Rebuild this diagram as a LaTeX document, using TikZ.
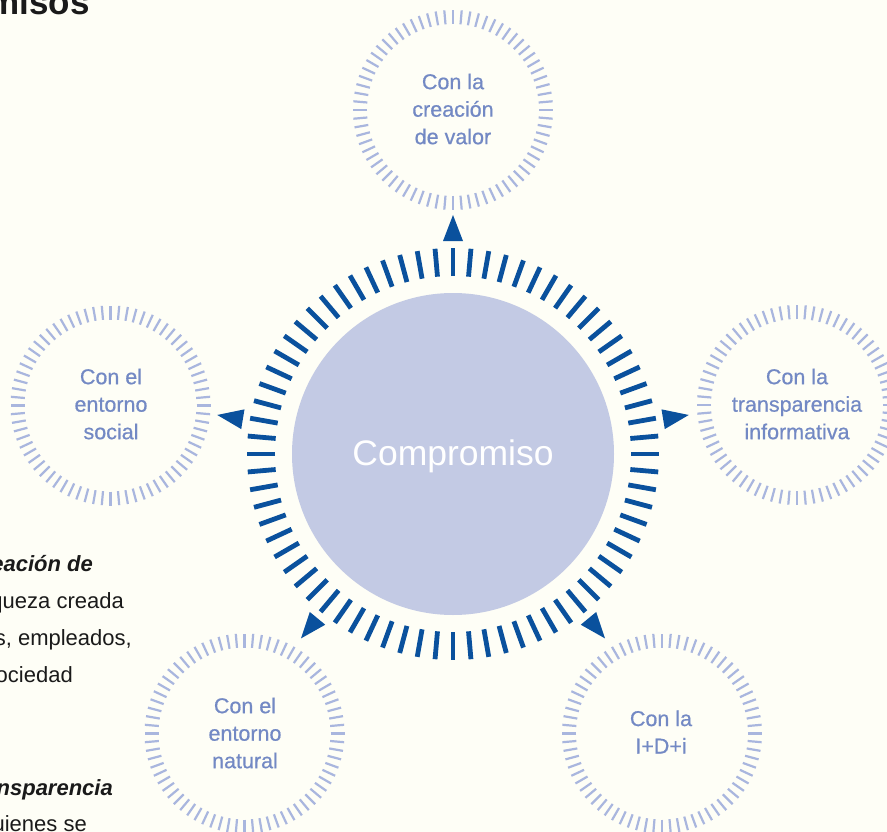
\documentclass[tikz,border=0pt]{standalone}
\usepackage{fontspec}
\setmainfont{Liberation Sans}
\newfontfamily\satfont[FakeBold=0.6]{Liberation Sans}
\usetikzlibrary{calc}
\definecolor{bgcol}{HTML}{FEFEF6}
\definecolor{darktick}{HTML}{0A519D}
\definecolor{lighttick}{HTML}{A9B6DE}
\definecolor{corefill}{HTML}{C3CAE4}
\definecolor{sattext}{HTML}{7389C4}
\definecolor{bodytext}{HTML}{1A1A1A}
\tikzset{
  sattxt/.style={align=center, text=sattext, font=\satfont\fontsize{21.5}{27.5}\selectfont, inner sep=0pt},
  lighttk/.style={draw=lighttick, line width=2.2pt},
  darktk/.style={draw=darktick, line width=4.8pt},
  arrowhd/.style={fill=darktick},
  bodytxt/.style={anchor=base east, inner sep=0pt, text=bodytext, font=\fontsize{22}{26}\selectfont},
  bodybold/.style={bodytxt, font=\fontsize{22}{26}\selectfont\bfseries\itshape},
}
\begin{document}
\begin{tikzpicture}[x=1pt,y=1pt]
\useasboundingbox (0,0) rectangle (887,-832);
\fill[bgcol] (0,0) rectangle (887,-832);
\clip (0,0) rectangle (887,-832);

% core
\coordinate (m) at (453,-454);
\fill[corefill] (m) circle (161);
\foreach \a in {0,5,...,355}
  \draw[darktk] ($(m)+(\a:178)$) -- ($(m)+(\a:206)$);
\node[text=white, font=\fontsize{35.5}{40}\selectfont, inner sep=0pt] (core) at (453,-456) {Compromiso};

% satellites
\foreach \n/\x/\y in {st/453/-110, sr/797/-405, sl/110.5/-405.5, sbl/244.5/-733.5, sbr/662/-733.5}{
  \coordinate (\n) at (\x,\y);
  \foreach \a in {0,5,...,355}
    \draw[lighttk] ($(\n)+(\a:86)$) -- ($(\n)+(\a:100)$);
}
\node[sattxt] (tt) at (453,-109) {Con la\\creación\\de valor};
\node[sattxt] (tr) at (797,-404) {Con la\\transparencia\\informativa};
\node[sattxt] (tl) at (111,-404) {Con el\\entorno\\social};
\node[sattxt] (tbl) at (245,-733) {Con el\\entorno\\natural};
\node[sattxt] (tbr) at (661,-732) {Con la\\I+D+i};

% arrowheads
\foreach \a in {90, 9.4, 170.6, -50.5, -129.5}
  \fill[arrowhd] ($(m)+(\a:239)$) -- ($(m)+(\a:213)+(\a+90:10)$) -- ($(m)+(\a:213)+(\a-90:10)$) -- cycle;

% clipped page text
\node[anchor=base east, inner sep=0pt, text=bodytext, font=\fontsize{35}{40}\selectfont\bfseries] (title) at (90,-15) {misos};
\node[bodybold] (b1) at (93,-571) {eación de};
\node[bodytxt] (b2) at (124,-608) {queza creada};
\node[bodytxt] (b3) at (132,-645) {s, empleados,};
\node[bodytxt] (b4) at (73,-682) {ociedad};
\node[bodybold] (b5) at (113,-795) {nsparencia};
\node[bodytxt] (b6) at (87,-831) {uienes se};
\end{tikzpicture}
\end{document}
